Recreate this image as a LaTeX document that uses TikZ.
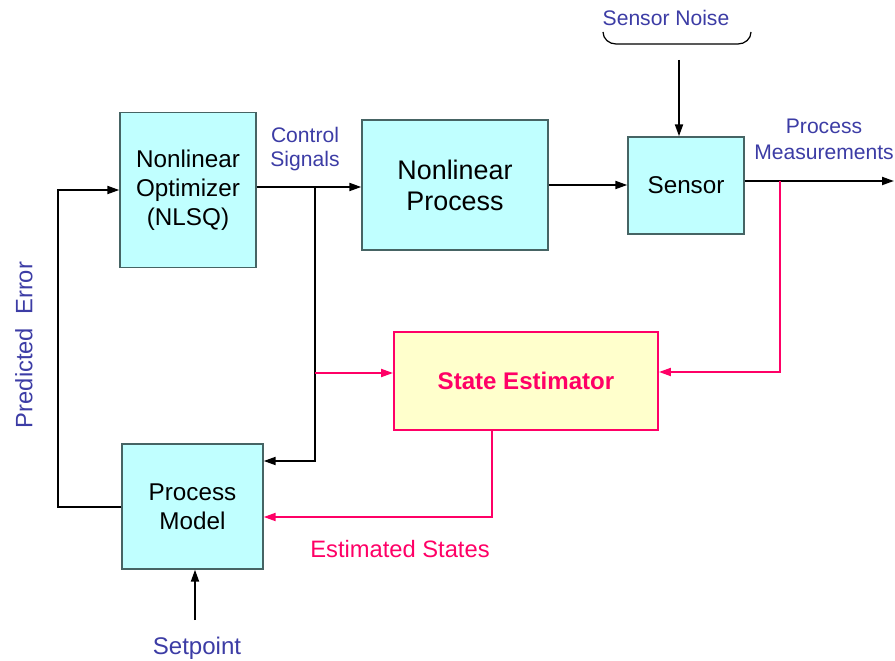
\documentclass[tikz,border=0pt]{standalone}
\usepackage{fontspec}
\setmainfont{Liberation Sans}
\usepackage{tikz}
\usetikzlibrary{arrows.meta,positioning}

\definecolor{boxcyan}{RGB}{192,255,255}
\definecolor{boxedge}{RGB}{70,100,100}
\definecolor{estfill}{RGB}{255,255,204}
\definecolor{estpink}{RGB}{255,0,102}
\definecolor{lblue}{RGB}{60,60,165}

\begin{document}
\begin{tikzpicture}[
    x=0.02cm, y=-0.02cm,
    >={Triangle[length=2.4mm,width=1.6mm]},
    blk/.style={
        draw=boxedge,
        fill=boxcyan,
        line width=0.8pt,
        align=center,
        inner sep=0pt,
        font=\fontsize{13.8}{16.5}\selectfont
    },
    lbl/.style={text=lblue, align=center, font=\fontsize{12}{14}\selectfont},
    wire/.style={line width=1.1pt},
    pwire/.style={line width=1.1pt, draw=estpink}
]
\useasboundingbox (0,0) rectangle (895,661);

% blocks
\node[blk, minimum width=2.72cm, minimum height=3.1cm] (opt) at (188,190)
    {Nonlinear\\Optimizer\\(NLSQ)};
\node[blk, minimum width=3.72cm, minimum height=2.6cm,
      font=\fontsize{15.3}{17.6}\selectfont] (proc) at (455,185) {Nonlinear\\Process};
\node[blk, minimum width=2.32cm, minimum height=1.94cm] (sens) at (686,185.5) {Sensor};
\node[blk, minimum width=2.82cm, minimum height=2.5cm] (model) at (192.5,506.5)
    {Process\\Model};
\node[blk, draw=estpink, fill=estfill, text=estpink, line width=1.1pt,
      minimum width=5.28cm, minimum height=1.96cm,
      font=\fontsize{13.7}{16}\selectfont\bfseries] (est) at (526,381) {State Estimator};

% labels
\node[lbl] (ctrl) at (305,149) {Control\\Signals};
\node[lbl, font=\fontsize{12}{14.7}\selectfont] (meas) at (824,139) {Process\\Measurements};
\node[lbl] (noise) at (666,18) {Sensor Noise};
\node[lbl, font=\fontsize{13.7}{16}\selectfont] (setp) at (197,648) {Setpoint};
\node[lbl, text=estpink, font=\fontsize{13.5}{16}\selectfont] (eststates) at (400,549) {Estimated States};
\node[lbl, rotate=90, font=\fontsize{13.5}{16}\selectfont] (perr) at (24,345) {Predicted\ \ Error};

% helper points
\coordinate (split) at (315,187);
\coordinate (mtap) at (780,181);
\coordinate (out) at (894,181);
\coordinate (brace) at (679,60);
\coordinate (setin) at (195,620);

% noise brace
\draw[line width=0.7pt] (603,32) to[out=-90,in=180] (616,44) -- (738,44)
    to[out=0,in=-90] (751,32);

% control path
\draw[wire,->] (opt.east |- split) -- (proc.west |- split);
\draw[wire,->] (split) -- (315,461) -- (model.east |- 0,461);
\draw[pwire,->] (315,373) -- (est.west |- 0,373);

% process and sensor
\draw[wire,->] (proc.east) -- (sens.west |- proc.east);
\draw[wire,->] (brace) -- (sens.north -| brace);
\draw[wire,->] (sens.east |- out) -- (out);
\draw[pwire,->] (mtap) -- (780,372) -- (est.east |- 0,372);

% estimator feedback
\draw[pwire,->] (492,430) -- (492,517) -- (model.east |- 0,517);

% predicted error loop
\draw[wire,->] (model.west |- 0,507) -- (58,507) -- (58,190) -- (opt.west |- 0,190);
\draw[wire,->] (setin) -- (model.south -| setin);
\end{tikzpicture}
\end{document}
